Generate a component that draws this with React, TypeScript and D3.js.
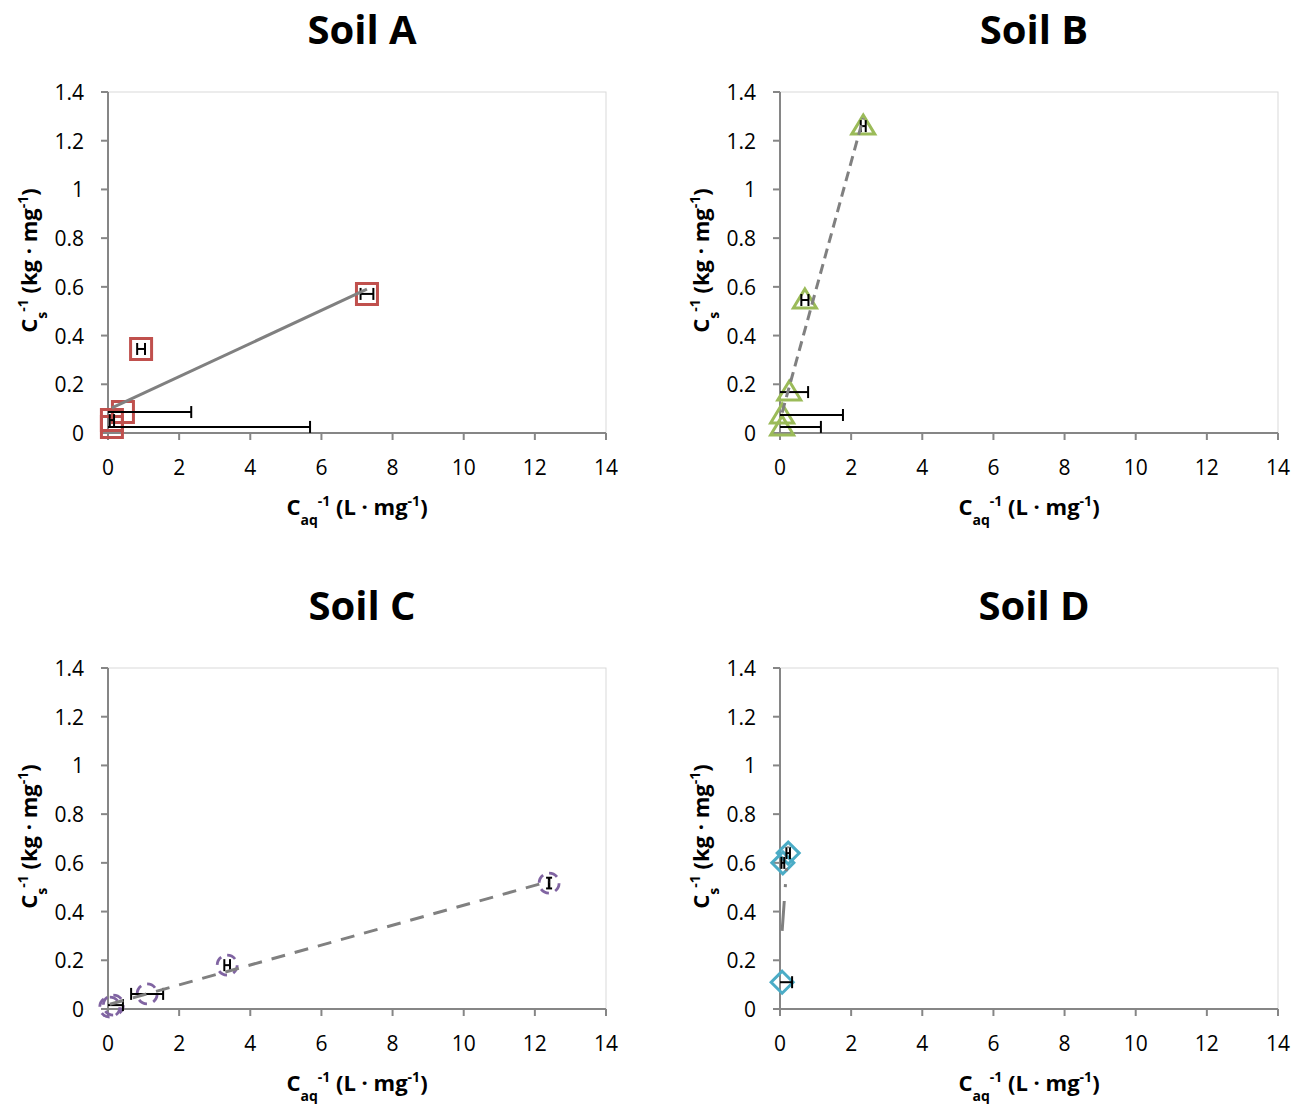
import React from "react";
import * as d3 from "d3";

const xTicks = [0, 2, 4, 6, 8, 10, 12, 14];
const yTicks = [0, 0.2, 0.4, 0.6, 0.8, 1, 1.2, 1.4];
const panelTitles = ["Soil A", "Soil B", "Soil C", "Soil D"];

const soilAX = [7.28, 0.93, 0.42, 0.11, 0.11];
const soilAY = [0.571, 0.345, 0.086, 0.053, 0.025];
const soilAXErr = [0.18, 0.11, 1.92, 0.06, 5.57];
const soilAYErr = [0, 0, 0, 0, 0];

const soilBX = [2.34, 0.7, 0.26, 0.06, 0.06];
const soilBY = [1.26, 0.546, 0.168, 0.074, 0.025];
const soilBXErr = [0.07, 0.1, 0.53, 1.71, 1.09];
const soilBYErr = [0, 0, 0, 0, 0];

const soilCX = [12.4, 3.35, 1.1, 0.15, 0.05];
const soilCY = [0.517, 0.18, 0.062, 0.016, 0.008];
const soilCXErr = [0, 0.08, 0.45, 0.27, 0];
const soilCYErr = [0.022, 0, 0, 0, 0];

const soilDX = [0.23, 0.08, 0.06];
const soilDY = [0.64, 0.6, 0.11];
const soilDXErr = [0.05, 0.04, 0.28];
const soilDYErr = [0, 0, 0];

const markerColors = ["#C0504D", "#9BBB59", "#8064A2", "#4BACC6"];
const markerShapes = ["square", "triangle", "circle", "diamond"];
const lineDashes = ["none", "10,6", "14,10", "30,14,3,13,3,20"];

const panels = [
  { x: soilAX, y: soilAY, xe: soilAXErr, ye: soilAYErr, left: 108, top: 92 },
  { x: soilBX, y: soilBY, xe: soilBXErr, ye: soilBYErr, left: 780, top: 92 },
  { x: soilCX, y: soilCY, xe: soilCXErr, ye: soilCYErr, left: 108, top: 668 },
  { x: soilDX, y: soilDY, xe: soilDXErr, ye: soilDYErr, left: 780, top: 668 },
];

const W = 498;
const H = 341;
const FONT = "Open Sans, Lato, sans-serif";
const AXIS = "#868686";

function markerPath(shape: string): string {
  if (shape === "square") return "M-10.5,-10.5H10.5V10.5H-10.5Z";
  if (shape === "triangle") return "M0,-11L11.5,8H-11.5Z";
  if (shape === "diamond") return "M0,-11L11,0L0,11L-11,0Z";
  return d3.arc()({ innerRadius: 0, outerRadius: 10, startAngle: 0, endAngle: 2 * Math.PI }) as string;
}

function regression(xs: number[], ys: number[]) {
  const mx = d3.mean(xs)!;
  const my = d3.mean(ys)!;
  let sxy = 0, sxx = 0;
  xs.forEach((v, i) => {
    sxy += (v - mx) * (ys[i] - my);
    sxx += (v - mx) * (v - mx);
  });
  const slope = sxy / sxx;
  return { slope, intercept: my - slope * mx };
}

function Panel({ idx }: { idx: number }) {
  const p = panels[idx];
  const xs = d3.scaleLinear().domain([0, 14]).range([0, W]);
  const ys = d3.scaleLinear().domain([0, 1.4]).range([H, 0]);
  const color = markerColors[idx];
  const shape = markerShapes[idx];
  const { slope, intercept } = regression(p.x, p.y);
  const [x0, x1] = d3.extent(p.x) as [number, number];
  const line = d3.line<number>().x((d) => xs(d)).y((d) => ys(slope * d + intercept));
  const cx = W / 2;
  return (
    <g transform={`translate(${p.left},${p.top})`}>
      <text x={cx + 5} y={-48} textAnchor="middle" fontFamily={FONT} fontWeight="bold" fontSize={40} fill="#000">
        {panelTitles[idx]}
      </text>
      <rect x={0} y={0} width={W} height={H} fill="none" stroke="#D9D9D9" strokeWidth={1} />
      <line x1={0} x2={W} y1={H} y2={H} stroke={AXIS} strokeWidth={2} />
      <line x1={0} x2={0} y1={0} y2={H} stroke={AXIS} strokeWidth={2} />
      {yTicks.map((t) => (
        <g key={"y" + t}>
          <line x1={-7} x2={0} y1={ys(t)} y2={ys(t)} stroke={AXIS} strokeWidth={2} />
          <text x={-24} y={ys(t) + 8} textAnchor="end" fontFamily={FONT} fontSize={21} fill="#000">
            {d3.format("~g")(t)}
          </text>
        </g>
      ))}
      {xTicks.map((t) => (
        <g key={"x" + t}>
          <line x1={xs(t)} x2={xs(t)} y1={H} y2={H + 7} stroke={AXIS} strokeWidth={2} />
          <text x={xs(t)} y={H + 42} textAnchor="middle" fontFamily={FONT} fontSize={21} fill="#000">
            {t}
          </text>
        </g>
      ))}
      <text x={cx} y={H + 82} textAnchor="middle" fontFamily={FONT} fontWeight="bold" fontSize={22} fill="#000">
        C<tspan fontSize={14} baselineShift="sub">aq</tspan>
        <tspan fontSize={14} baselineShift="super">-1</tspan> (L · mg
        <tspan fontSize={14} baselineShift="super">-1</tspan>)
      </text>
      <text
        transform={`translate(${-71},${H / 2 - 2}) rotate(-90)`}
        textAnchor="middle"
        fontFamily={FONT}
        fontWeight="bold"
        fontSize={22}
        fill="#000"
      >
        C<tspan fontSize={14} baselineShift="sub">s</tspan>
        <tspan fontSize={14} baselineShift="super">-1</tspan> (kg · mg
        <tspan fontSize={14} baselineShift="super">-1</tspan>)
      </text>
      {p.x.map((v, i) => (
        <path
          key={"m" + i}
          d={markerPath(shape)}
          transform={`translate(${xs(v)},${ys(p.y[i])})`}
          fill="none"
          stroke={color}
          strokeWidth={shape === "circle" ? 2.8 : 3}
          strokeDasharray={shape === "circle" ? "9,6.7" : undefined}
        />
      ))}
      {p.x.map((v, i) => {
        const e = p.xe[i];
        const ye = p.ye[i];
        const yy = ys(p.y[i]);
        const lo = Math.max(0, v - e);
        const hi = v + e;
        return (
          <g key={"e" + i} stroke="#000" strokeWidth={2}>
            {e > 0 && <line x1={xs(lo)} x2={xs(hi)} y1={yy} y2={yy} />}
            {e > 0 && v - e >= 0 && <line x1={xs(lo)} x2={xs(lo)} y1={yy - 6} y2={yy + 6} />}
            {e > 0 && <line x1={xs(hi)} x2={xs(hi)} y1={yy - 6} y2={yy + 6} />}
            {ye > 0 && <line x1={xs(v)} x2={xs(v)} y1={ys(p.y[i] - ye)} y2={ys(p.y[i] + ye)} strokeWidth={2.5} />}
            {ye > 0 && <line x1={xs(v) - 3} x2={xs(v) + 3} y1={ys(p.y[i] - ye)} y2={ys(p.y[i] - ye)} />}
            {ye > 0 && <line x1={xs(v) - 3} x2={xs(v) + 3} y1={ys(p.y[i] + ye)} y2={ys(p.y[i] + ye)} />}
          </g>
        );
      })}
      <path
        d={line([x0, x1]) as string}
        fill="none"
        stroke="#808080"
        strokeWidth={3}
        strokeDasharray={lineDashes[idx] === "none" ? undefined : lineDashes[idx]}
      />
    </g>
  );
}

export default function App() {
  return (
    <svg
      width={1297}
      height={1104}
      style={{ position: "absolute", left: 0, top: 0, background: "#fff" }}
    >
      <rect width={1297} height={1104} fill="#fff" />
      {panels.map((_, i) => (
        <Panel key={i} idx={i} />
      ))}
    </svg>
  );
}
